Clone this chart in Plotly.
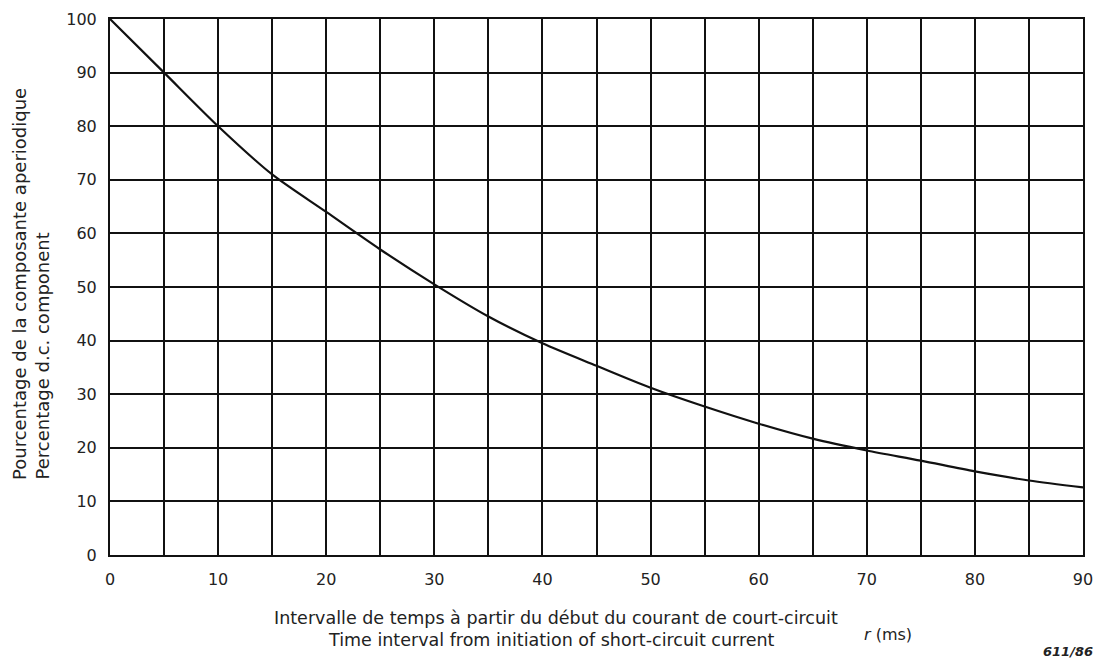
import plotly.graph_objects as go

time_ms = [0, 5, 10, 15, 20, 25, 30, 35, 40, 45, 50, 55, 60, 65, 70, 75, 80, 85, 90]
dc_percent = [100, 90, 80, 71, 64, 57, 50.5, 44.5, 39.5, 35.3, 31.2, 27.7, 24.5, 21.7, 19.5, 17.6, 15.6, 13.9, 12.6]
x_ticks = [0, 10, 20, 30, 40, 50, 60, 70, 80, 90]
x_minor = [5, 15, 25, 35, 45, 55, 65, 75, 85]
y_ticks = [0, 10, 20, 30, 40, 50, 60, 70, 80, 90, 100]

ink = "#111111"
txt = "#222222"
font = "DejaVu Sans, Verdana, sans-serif"

W, H = 1101, 658
L, T, R, B = 102, 11, 26, 111
OFF = 8  # page body margin
PW, PH = W - L - R, H - T - B

fig = go.Figure()
fig.add_trace(go.Scatter(x=time_ms, y=dc_percent, mode="lines",
                         line=dict(color=ink, width=2.2, shape="spline", smoothing=0.8),
                         showlegend=False, hoverinfo="skip"))

fig.update_layout(
    width=W, height=H,
    margin=dict(l=L, r=R, t=T, b=B, autoexpand=False),
    paper_bgcolor="white", plot_bgcolor="white",
    font=dict(family=font, color=txt),
    xaxis=dict(range=[0, 90], tickvals=x_ticks, showgrid=True, gridcolor=ink, gridwidth=2,
               minor=dict(tickvals=x_minor, showgrid=True, gridcolor=ink, gridwidth=2),
               showline=True, linecolor=ink, linewidth=2, mirror=True, zeroline=False,
               automargin=False,
               tickfont=dict(size=16, family=font, color=txt), ticks="", ticklabelstandoff=9),
    yaxis=dict(range=[0, 100], tickvals=y_ticks, showgrid=True, gridcolor=ink, gridwidth=2,
               showline=True, linecolor=ink, linewidth=2, mirror=True, zeroline=False,
               automargin=False,
               tickfont=dict(size=16, family=font, color=txt), ticks="", ticklabelstandoff=8),
)


def put(ax, ay, text, size, angle=0, xa="center", ya="middle"):
    fig.add_annotation(
        xref="paper", yref="paper",
        x=(ax - OFF - L) / PW, y=1 - (ay - OFF - T) / PH,
        xanchor=xa, yanchor=ya,
        text=text, showarrow=False, textangle=angle,
        font=dict(size=size, family=font, color=txt))


put(19, 482, "Pourcentage de la composante aperiodique", 18, -90, ya="bottom")
put(42, 482, "Percentage d.c. component", 18, -90, ya="bottom")
put(556, 618, "Intervalle de temps à partir du début du courant de court-circuit", 17.5)
put(551, 640, "Time interval from initiation of short-circuit current", 17.5)
put(888, 634, "<i>r</i> (ms)", 16)
put(1068, 651, "<i><b>611/86</b></i>", 13)

fig.write_html("out.html")
